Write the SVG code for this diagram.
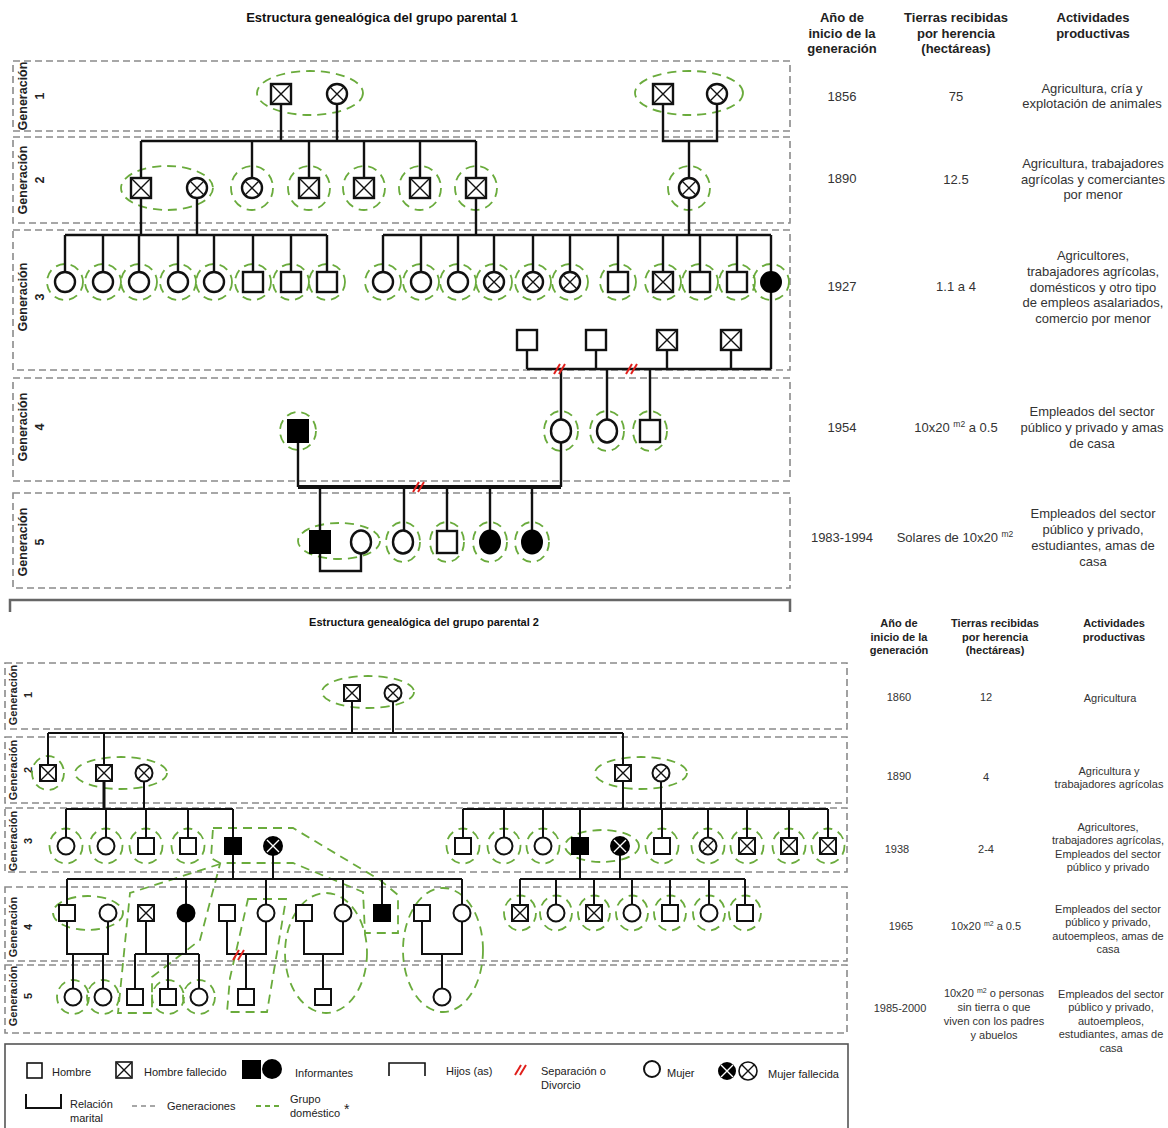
<svg xmlns="http://www.w3.org/2000/svg" width="1168" height="1128" viewBox="0 0 1168 1128">
<style>
text{font-family:"Liberation Sans",Arial,sans-serif}
.t1{font-size:13px;font-weight:bold;fill:#111}
.h1{font-size:13px;font-weight:bold;fill:#222;text-anchor:middle}
.v1{font-size:13px;fill:#333;text-anchor:middle}
.h2{font-size:11px;font-weight:bold;fill:#222;text-anchor:middle}
.v2{font-size:11px;fill:#333;text-anchor:middle}
.gl1{font-size:12.5px;font-weight:bold;fill:#222;text-anchor:middle}
.gl2{font-size:11px;font-weight:bold;fill:#222;text-anchor:middle}
.lg{font-size:11px;fill:#222}
.gen{fill:none;stroke:#8a8a8a;stroke-width:1.6;stroke-dasharray:7 4}
.dom{fill:none;stroke:#6aab3c;stroke-width:1.8;stroke-dasharray:9 6}
.c1{fill:none;stroke:#111;stroke-width:2.4}
.c2{fill:none;stroke:#111;stroke-width:2}
.red{fill:none;stroke:#e0201c;stroke-width:2}
.n{fill:#fff;stroke:#111;stroke-width:2.4}
.n2{fill:#fff;stroke:#111;stroke-width:2}
.ni{fill:#000;stroke:#000;stroke-width:2}
.x{fill:none;stroke:#111;stroke-width:1.4}
.xw{fill:none;stroke:#fff;stroke-width:1.4}
</style>
<defs>
<g id="m1"><rect x="-10" y="-10" width="20" height="20" class="n"/></g>
<g id="md1"><rect x="-10" y="-10" width="20" height="20" class="n"/><path d="M-9,-9L9,9M9,-9L-9,9" class="x"/></g>
<g id="f1"><circle r="10" class="n"/></g>
<g id="fd1"><circle r="10" class="n"/><path d="M-7,-7L7,7M7,-7L-7,7" class="x"/></g>
<g id="fi1"><circle r="10" class="ni"/></g>
<g id="m1o"><rect x="-10" y="-11" width="20" height="22" class="n"/></g>
<g id="mi1o"><rect x="-10" y="-11" width="20" height="22" class="ni"/></g>
<g id="f1o"><ellipse rx="10" ry="11.5" class="n"/></g>
<g id="fi1o"><ellipse rx="10" ry="11.5" class="ni"/></g>
<g id="m2"><rect x="-8" y="-8" width="16" height="16" class="n2"/></g>
<g id="md2"><rect x="-8" y="-8" width="16" height="16" class="n2"/><path d="M-7,-7L7,7M7,-7L-7,7" class="x"/></g>
<g id="mi2"><rect x="-8" y="-8" width="16" height="16" class="ni"/></g>
<g id="f2"><circle r="8.5" class="n2"/></g>
<g id="fd2"><circle r="8.5" class="n2"/><path d="M-6,-6L6,6M6,-6L-6,6" class="x"/></g>
<g id="fi2"><circle r="8.5" class="ni"/></g>
<g id="fdi2"><circle r="9" class="ni"/><path d="M-6,-6L6,6M6,-6L-6,6" class="xw"/></g>
<g id="rm"><path d="M-6,5L0,-5M-1,5L5,-5" class="red"/></g>
</defs>
<rect width="1168" height="1128" fill="#fff"/>

<!-- ===== GROUP 1 ===== -->
<text class="t1" x="382" y="22" text-anchor="middle">Estructura genealógica del grupo parental 1</text>
<g id="g1-generations">
<rect class="gen" x="13" y="61" width="777" height="70"/>
<rect class="gen" x="13" y="137" width="777" height="86"/>
<rect class="gen" x="13" y="230" width="777" height="140"/>
<rect class="gen" x="13" y="378" width="777" height="103"/>
<rect class="gen" x="13" y="493" width="777" height="95"/>
<text class="gl1" transform="translate(26.5,96) rotate(-90)">Generación</text>
<text class="gl1" transform="translate(44,96) rotate(-90)">1</text>
<text class="gl1" transform="translate(26.5,180) rotate(-90)">Generación</text>
<text class="gl1" transform="translate(44,180) rotate(-90)">2</text>
<text class="gl1" transform="translate(26.5,297) rotate(-90)">Generación</text>
<text class="gl1" transform="translate(44,297) rotate(-90)">3</text>
<text class="gl1" transform="translate(26.5,427) rotate(-90)">Generación</text>
<text class="gl1" transform="translate(44,427) rotate(-90)">4</text>
<text class="gl1" transform="translate(26.5,542) rotate(-90)">Generación</text>
<text class="gl1" transform="translate(44,542) rotate(-90)">5</text>
</g>
<path d="M10,612V600H790V612" fill="none" stroke="#666" stroke-width="2.5"/>

<g id="g1-domestic">
<ellipse class="dom" cx="310" cy="93" rx="53" ry="22"/>
<ellipse class="dom" cx="689" cy="93" rx="54" ry="22"/>
<ellipse class="dom" cx="167" cy="188" rx="46" ry="22"/>
<ellipse class="dom" cx="252" cy="188" rx="21" ry="22"/>
<ellipse class="dom" cx="309" cy="188" rx="21" ry="22"/>
<ellipse class="dom" cx="364" cy="188" rx="21" ry="22"/>
<ellipse class="dom" cx="420" cy="188" rx="21" ry="22"/>
<ellipse class="dom" cx="476" cy="188" rx="21" ry="22"/>
<ellipse class="dom" cx="689" cy="188" rx="21" ry="22"/>
<ellipse class="dom" cx="65" cy="282" rx="18" ry="18"/>
<ellipse class="dom" cx="103" cy="282" rx="18" ry="18"/>
<ellipse class="dom" cx="139" cy="282" rx="18" ry="18"/>
<ellipse class="dom" cx="178" cy="282" rx="18" ry="18"/>
<ellipse class="dom" cx="214" cy="282" rx="18" ry="18"/>
<ellipse class="dom" cx="253" cy="282" rx="18" ry="18"/>
<ellipse class="dom" cx="291" cy="282" rx="18" ry="18"/>
<ellipse class="dom" cx="327" cy="282" rx="18" ry="18"/>
<ellipse class="dom" cx="383" cy="282" rx="18" ry="18"/>
<ellipse class="dom" cx="421" cy="282" rx="18" ry="18"/>
<ellipse class="dom" cx="458" cy="282" rx="18" ry="18"/>
<ellipse class="dom" cx="494" cy="282" rx="18" ry="18"/>
<ellipse class="dom" cx="533" cy="282" rx="18" ry="18"/>
<ellipse class="dom" cx="570" cy="282" rx="18" ry="18"/>
<ellipse class="dom" cx="618" cy="282" rx="18" ry="18"/>
<ellipse class="dom" cx="663" cy="282" rx="18" ry="18"/>
<ellipse class="dom" cx="700" cy="282" rx="18" ry="18"/>
<ellipse class="dom" cx="737" cy="282" rx="18" ry="18"/>
<ellipse class="dom" cx="771" cy="282" rx="18" ry="18"/>
<ellipse class="dom" cx="298" cy="431" rx="18" ry="19"/>
<ellipse class="dom" cx="561" cy="431" rx="17" ry="20"/>
<ellipse class="dom" cx="607" cy="431" rx="17" ry="20"/>
<ellipse class="dom" cx="650" cy="431" rx="17" ry="20"/>
<ellipse class="dom" cx="339" cy="541" rx="41" ry="18"/>
<ellipse class="dom" cx="403" cy="542" rx="17" ry="20"/>
<ellipse class="dom" cx="447" cy="542" rx="17" ry="20"/>
<ellipse class="dom" cx="490" cy="542" rx="17" ry="20"/>
<ellipse class="dom" cx="532" cy="542" rx="17" ry="20"/>
</g>

<g id="g1-connectors">
<path class="c1" d="M281,94V141M337,94V141M141,141H476M141,141V188M252,141V188M309,141V188M364,141V188M420,141V188M476,141V188"/>
<path class="c1" d="M663,94V141H717V94M689,141V188"/>
<path class="c1" d="M141,188V235M197,188V235M65,235H327M65,235V282M103,235V282M139,235V282M178,235V282M214,235V282M253,235V282M291,235V282M327,235V282"/>
<path class="c1" d="M476,188V235M689,188V235M383,235H771M383,235V282M421,235V282M458,235V282M494,235V282M533,235V282M570,235V282M618,235V282M663,235V282M700,235V282M737,235V282M771,235V369"/>
<path class="c1" d="M527,340V369M596,340V369M667,340V369M731,340V369M527,369H771"/>
<path class="c1" d="M561,369V431M607,369V431M650,369V431"/>
<path class="c1" d="M298,431V487M561,431V487"/>
<path d="M298,487H561" fill="none" stroke="#111" stroke-width="4"/>
<path class="c1" d="M320,487V542M404,487V542M447,487V542M490,487V542M532,487V542M320,542V571H361V542"/>
<use href="#rm" x="560" y="369"/>
<use href="#rm" x="632" y="369"/>
<use href="#rm" x="419" y="487"/>
</g>

<g id="g1-nodes">
<g id="p1-g1-a"><use href="#md1" x="281" y="94"/></g>
<g id="p1-g1-b"><use href="#fd1" x="337" y="94"/></g>
<g id="p1-g1-c"><use href="#md1" x="663" y="94"/></g>
<g id="p1-g1-d"><use href="#fd1" x="717" y="94"/></g>
<g id="p1-g2-1"><use href="#md1" x="141" y="188"/></g>
<g id="p1-g2-2"><use href="#fd1" x="197" y="188"/></g>
<g id="p1-g2-3"><use href="#fd1" x="252" y="188"/></g>
<g id="p1-g2-4"><use href="#md1" x="309" y="188"/></g>
<g id="p1-g2-5"><use href="#md1" x="364" y="188"/></g>
<g id="p1-g2-6"><use href="#md1" x="420" y="188"/></g>
<g id="p1-g2-7"><use href="#md1" x="476" y="188"/></g>
<g id="p1-g2-8"><use href="#fd1" x="689" y="188"/></g>
<g id="p1-g3-1"><use href="#f1" x="65" y="282"/></g>
<g id="p1-g3-2"><use href="#f1" x="103" y="282"/></g>
<g id="p1-g3-3"><use href="#f1" x="139" y="282"/></g>
<g id="p1-g3-4"><use href="#f1" x="178" y="282"/></g>
<g id="p1-g3-5"><use href="#f1" x="214" y="282"/></g>
<g id="p1-g3-6"><use href="#m1" x="253" y="282"/></g>
<g id="p1-g3-7"><use href="#m1" x="291" y="282"/></g>
<g id="p1-g3-8"><use href="#m1" x="327" y="282"/></g>
<g id="p1-g3-9"><use href="#f1" x="383" y="282"/></g>
<g id="p1-g3-10"><use href="#f1" x="421" y="282"/></g>
<g id="p1-g3-11"><use href="#f1" x="458" y="282"/></g>
<g id="p1-g3-12"><use href="#fd1" x="494" y="282"/></g>
<g id="p1-g3-13"><use href="#fd1" x="533" y="282"/></g>
<g id="p1-g3-14"><use href="#fd1" x="570" y="282"/></g>
<g id="p1-g3-15"><use href="#m1" x="618" y="282"/></g>
<g id="p1-g3-16"><use href="#md1" x="663" y="282"/></g>
<g id="p1-g3-17"><use href="#m1" x="700" y="282"/></g>
<g id="p1-g3-18"><use href="#m1" x="737" y="282"/></g>
<g id="p1-g3-19"><use href="#fi1" x="771" y="282"/></g>
<g id="p1-g3-20"><use href="#m1" x="527" y="340"/></g>
<g id="p1-g3-21"><use href="#m1" x="596" y="340"/></g>
<g id="p1-g3-22"><use href="#md1" x="667" y="340"/></g>
<g id="p1-g3-23"><use href="#md1" x="731" y="340"/></g>
<g id="p1-g4-1"><use href="#mi1o" x="298" y="431"/></g>
<g id="p1-g4-2"><use href="#f1o" x="561" y="431"/></g>
<g id="p1-g4-3"><use href="#f1o" x="607" y="431"/></g>
<g id="p1-g4-4"><use href="#m1o" x="650" y="431"/></g>
<g id="p1-g5-1"><use href="#mi1o" x="320" y="542"/></g>
<g id="p1-g5-2"><use href="#f1o" x="361" y="542"/></g>
<g id="p1-g5-3"><use href="#f1o" x="403" y="542"/></g>
<g id="p1-g5-4"><use href="#m1o" x="447" y="542"/></g>
<g id="p1-g5-5"><use href="#fi1o" x="490" y="542"/></g>
<g id="p1-g5-6"><use href="#fi1o" x="532" y="542"/></g>
</g>

<g id="g1-table">
<text class="h1" x="842" y="22">Año de</text>
<text class="h1" x="842" y="38">inicio de la</text>
<text class="h1" x="842" y="53">generación</text>
<text class="h1" x="956" y="22">Tierras recibidas</text>
<text class="h1" x="956" y="38">por herencia</text>
<text class="h1" x="956" y="53">(hectáreas)</text>
<text class="h1" x="1093" y="22">Actividades</text>
<text class="h1" x="1093" y="38">productivas</text>
<text class="v1" x="842" y="101">1856</text>
<text class="v1" x="956" y="101">75</text>
<text class="v1" x="1092" y="93">Agricultura, cría y</text>
<text class="v1" x="1092" y="108">explotación de animales</text>
<text class="v1" x="842" y="183">1890</text>
<text class="v1" x="956" y="184">12.5</text>
<text class="v1" x="1093" y="168">Agricultura, trabajadores</text>
<text class="v1" x="1093" y="184">agrícolas y comerciantes</text>
<text class="v1" x="1093" y="199">por menor</text>
<text class="v1" x="842" y="291">1927</text>
<text class="v1" x="956" y="291">1.1 a 4</text>
<text class="v1" x="1093" y="260">Agricultores,</text>
<text class="v1" x="1093" y="276">trabajadores agrícolas,</text>
<text class="v1" x="1093" y="292">domésticos y otro tipo</text>
<text class="v1" x="1093" y="307">de empleos asalariados,</text>
<text class="v1" x="1093" y="323">comercio por menor</text>
<text class="v1" x="842" y="432">1954</text>
<text class="v1" x="956" y="432">10x20 <tspan font-size="8.5" dy="-5">m2</tspan><tspan dy="5"> a  0.5</tspan></text>
<text class="v1" x="1092" y="416">Empleados del sector</text>
<text class="v1" x="1092" y="432">público y privado y amas</text>
<text class="v1" x="1092" y="448">de casa</text>
<text class="v1" x="842" y="542">1983-1994</text>
<text class="v1" x="955" y="542">Solares de 10x20 <tspan font-size="8.5" dy="-5">m2</tspan></text>
<text class="v1" x="1093" y="518">Empleados del sector</text>
<text class="v1" x="1093" y="534">público y privado,</text>
<text class="v1" x="1093" y="550">estudiantes, amas de</text>
<text class="v1" x="1093" y="566">casa</text>
</g>

<!-- ===== GROUP 2 ===== -->
<text class="t1" x="424" y="626" text-anchor="middle" style="font-size:11px">Estructura genealógica del grupo parental 2</text>
<g id="g2-generations">
<rect class="gen" x="5" y="663" width="842" height="66"/>
<rect class="gen" x="5" y="737" width="842" height="66"/>
<rect class="gen" x="5" y="808" width="842" height="64"/>
<rect class="gen" x="5" y="887" width="842" height="74"/>
<rect class="gen" x="5" y="965" width="842" height="68"/>
<text class="gl2" transform="translate(17,695) rotate(-90)">Generación</text>
<text class="gl2" transform="translate(32,695) rotate(-90)">1</text>
<text class="gl2" transform="translate(17,770) rotate(-90)">Generación</text>
<text class="gl2" transform="translate(32,770) rotate(-90)">2</text>
<text class="gl2" transform="translate(17,841) rotate(-90)">Generación</text>
<text class="gl2" transform="translate(32,841) rotate(-90)">3</text>
<text class="gl2" transform="translate(17,927) rotate(-90)">Generación</text>
<text class="gl2" transform="translate(32,927) rotate(-90)">4</text>
<text class="gl2" transform="translate(17,996) rotate(-90)">Generación</text>
<text class="gl2" transform="translate(32,996) rotate(-90)">5</text>
</g>

<g id="g2-domestic">
<ellipse class="dom" cx="368" cy="692" rx="46" ry="16"/>
<ellipse class="dom" cx="48" cy="773" rx="16" ry="17"/>
<ellipse class="dom" cx="121" cy="773" rx="46" ry="16"/>
<ellipse class="dom" cx="641" cy="773" rx="46" ry="16"/>
<ellipse class="dom" cx="66" cy="846" rx="16.5" ry="17.5"/>
<ellipse class="dom" cx="106" cy="846" rx="16.5" ry="17.5"/>
<ellipse class="dom" cx="146" cy="846" rx="16.5" ry="17.5"/>
<ellipse class="dom" cx="188" cy="846" rx="16.5" ry="17.5"/>
<polygon class="dom" points="213,828 293,828 380,880 398,895 398,933 365,933 363,892 293,863 220,863 211,858"/>
<polygon class="dom" points="220,864 130,893 118,1013 152,1013 152,977 200,940"/>
<ellipse class="dom" cx="463" cy="846" rx="16.5" ry="17.5"/>
<ellipse class="dom" cx="504" cy="846" rx="16.5" ry="17.5"/>
<ellipse class="dom" cx="543" cy="846" rx="16.5" ry="17.5"/>
<ellipse class="dom" cx="602" cy="846" rx="37" ry="16"/>
<ellipse class="dom" cx="662" cy="846" rx="16.5" ry="17.5"/>
<ellipse class="dom" cx="708" cy="846" rx="16.5" ry="17.5"/>
<ellipse class="dom" cx="747" cy="846" rx="16.5" ry="17.5"/>
<ellipse class="dom" cx="789" cy="846" rx="16.5" ry="17.5"/>
<ellipse class="dom" cx="828" cy="846" rx="16.5" ry="17.5"/>
<ellipse class="dom" cx="88" cy="913" rx="35" ry="17"/>
<polygon class="dom" points="248,899 286,899 267,1012 227,1012 230,978"/>
<ellipse class="dom" cx="326" cy="953" rx="41" ry="60"/>
<ellipse class="dom" cx="443" cy="950" rx="40" ry="62"/>
<ellipse class="dom" cx="520" cy="913" rx="16" ry="17.5"/>
<ellipse class="dom" cx="556" cy="913" rx="16" ry="17.5"/>
<ellipse class="dom" cx="594" cy="913" rx="16" ry="17.5"/>
<ellipse class="dom" cx="632" cy="913" rx="16" ry="17.5"/>
<ellipse class="dom" cx="670" cy="913" rx="16" ry="17.5"/>
<ellipse class="dom" cx="709" cy="913" rx="16" ry="17.5"/>
<ellipse class="dom" cx="745" cy="913" rx="16" ry="17.5"/>
<ellipse class="dom" cx="73" cy="997" rx="16" ry="17"/>
<ellipse class="dom" cx="103" cy="997" rx="16" ry="17"/>
<ellipse class="dom" cx="168" cy="997" rx="16" ry="17"/>
<ellipse class="dom" cx="199" cy="997" rx="16" ry="17"/>
</g>

<g id="g2-connectors">
<path class="c2" d="M352,693V733M393,693V733M48,733H623M48,733V773M104,733V773"/>
<path d="M104,773V809" fill="none" stroke="#111" stroke-width="3"/>
<path class="c2" d="M144,773V809M66,809H233M66,809V846M106,809V846M146,809V846M188,809V846M233,809V846"/>
<path class="c2" d="M623,733V809M661,773V809M463,809H828M463,809V846M504,809V846M543,809V846M580,809V846M662,809V846M708,809V846M747,809V846M789,809V846M828,809V846"/>
<path class="c2" d="M233,846V879M273,846V879M67,879H462M67,879V913M186,879V913M266,879V913M343,879V913M382,879V913M462,879V913"/>
<path class="c2" d="M580,846V879M620,846V879M520,879H745M520,879V913M556,879V913M594,879V913M632,879V913M670,879V913M709,879V913M745,879V913"/>
<path class="c2" d="M67,913V954H108V913M73,954V997M103,954V997"/>
<path class="c2" d="M146,913V954M186,913V954M135,954H199M135,954V997M168,954V997M199,954V997"/>
<path class="c2" d="M227,913V954H266V913M246,954V997"/>
<path class="c2" d="M304,913V954H343V913M323,954V997"/>
<path class="c2" d="M422,913V954H462V913M442,954V997"/>
<use href="#rm" x="239" y="955"/>
</g>

<g id="g2-nodes">
<g id="p2-g1-a"><use href="#md2" x="352" y="693"/></g>
<g id="p2-g1-b"><use href="#fd2" x="393" y="693"/></g>
<g id="p2-g2-1"><use href="#md2" x="48" y="773"/></g>
<g id="p2-g2-2"><use href="#md2" x="104" y="773"/></g>
<g id="p2-g2-3"><use href="#fd2" x="144" y="773"/></g>
<g id="p2-g2-4"><use href="#md2" x="623" y="773"/></g>
<g id="p2-g2-5"><use href="#fd2" x="661" y="773"/></g>
<g id="p2-g3-1"><use href="#f2" x="66" y="846"/></g>
<g id="p2-g3-2"><use href="#f2" x="106" y="846"/></g>
<g id="p2-g3-3"><use href="#m2" x="146" y="846"/></g>
<g id="p2-g3-4"><use href="#m2" x="188" y="846"/></g>
<g id="p2-g3-5"><use href="#mi2" x="233" y="846"/></g>
<g id="p2-g3-6"><use href="#fdi2" x="273" y="846"/></g>
<g id="p2-g3-7"><use href="#m2" x="463" y="846"/></g>
<g id="p2-g3-8"><use href="#f2" x="504" y="846"/></g>
<g id="p2-g3-9"><use href="#f2" x="543" y="846"/></g>
<g id="p2-g3-10"><use href="#mi2" x="580" y="846"/></g>
<g id="p2-g3-11"><use href="#fdi2" x="620" y="846"/></g>
<g id="p2-g3-12"><use href="#m2" x="662" y="846"/></g>
<g id="p2-g3-13"><use href="#fd2" x="708" y="846"/></g>
<g id="p2-g3-14"><use href="#md2" x="747" y="846"/></g>
<g id="p2-g3-15"><use href="#md2" x="789" y="846"/></g>
<g id="p2-g3-16"><use href="#md2" x="828" y="846"/></g>
<g id="p2-g4-1"><use href="#m2" x="67" y="913"/></g>
<g id="p2-g4-2"><use href="#f2" x="108" y="913"/></g>
<g id="p2-g4-3"><use href="#md2" x="146" y="913"/></g>
<g id="p2-g4-4"><use href="#fi2" x="186" y="913"/></g>
<g id="p2-g4-5"><use href="#m2" x="227" y="913"/></g>
<g id="p2-g4-6"><use href="#f2" x="266" y="913"/></g>
<g id="p2-g4-7"><use href="#m2" x="304" y="913"/></g>
<g id="p2-g4-8"><use href="#f2" x="343" y="913"/></g>
<g id="p2-g4-9"><use href="#mi2" x="382" y="913"/></g>
<g id="p2-g4-10"><use href="#m2" x="422" y="913"/></g>
<g id="p2-g4-11"><use href="#f2" x="462" y="913"/></g>
<g id="p2-g4-12"><use href="#md2" x="520" y="913"/></g>
<g id="p2-g4-13"><use href="#f2" x="556" y="913"/></g>
<g id="p2-g4-14"><use href="#md2" x="594" y="913"/></g>
<g id="p2-g4-15"><use href="#f2" x="632" y="913"/></g>
<g id="p2-g4-16"><use href="#m2" x="670" y="913"/></g>
<g id="p2-g4-17"><use href="#f2" x="709" y="913"/></g>
<g id="p2-g4-18"><use href="#m2" x="745" y="913"/></g>
<g id="p2-g5-1"><use href="#f2" x="73" y="997"/></g>
<g id="p2-g5-2"><use href="#f2" x="103" y="997"/></g>
<g id="p2-g5-3"><use href="#m2" x="135" y="997"/></g>
<g id="p2-g5-4"><use href="#m2" x="168" y="997"/></g>
<g id="p2-g5-5"><use href="#f2" x="199" y="997"/></g>
<g id="p2-g5-6"><use href="#m2" x="246" y="997"/></g>
<g id="p2-g5-7"><use href="#m2" x="323" y="997"/></g>
<g id="p2-g5-8"><use href="#f2" x="442" y="997"/></g>
</g>

<g id="g2-table">
<text class="h2" x="899" y="627">Año de</text>
<text class="h2" x="899" y="641">inicio de la</text>
<text class="h2" x="899" y="654">generación</text>
<text class="h2" x="995" y="627">Tierras recibidas</text>
<text class="h2" x="995" y="641">por herencia</text>
<text class="h2" x="995" y="654">(hectáreas)</text>
<text class="h2" x="1114" y="627">Actividades</text>
<text class="h2" x="1114" y="641">productivas</text>
<text class="v2" x="899" y="701">1860</text>
<text class="v2" x="986" y="701">12</text>
<text class="v2" x="1110" y="702">Agricultura</text>
<text class="v2" x="899" y="780">1890</text>
<text class="v2" x="986" y="781">4</text>
<text class="v2" x="1109" y="775">Agricultura y</text>
<text class="v2" x="1109" y="788">trabajadores agrícolas</text>
<text class="v2" x="897" y="853">1938</text>
<text class="v2" x="986" y="853">2-4</text>
<text class="v2" x="1108" y="831">Agricultores,</text>
<text class="v2" x="1108" y="844">trabajadores agrícolas,</text>
<text class="v2" x="1108" y="858">Empleados del sector</text>
<text class="v2" x="1108" y="871">público y privado</text>
<text class="v2" x="901" y="930">1965</text>
<text class="v2" x="986" y="930">10x20 <tspan font-size="7" dy="-4">m2</tspan><tspan dy="4"> a 0.5</tspan></text>
<text class="v2" x="1108" y="913">Empleados del sector</text>
<text class="v2" x="1108" y="926">público y privado,</text>
<text class="v2" x="1108" y="940">autoempleos, amas de</text>
<text class="v2" x="1108" y="953">casa</text>
<text class="v2" x="900" y="1012">1985-2000</text>
<text class="v2" x="994" y="997">10x20 <tspan font-size="7" dy="-4">m2</tspan><tspan dy="4"> o personas</tspan></text>
<text class="v2" x="994" y="1011">sin tierra o que</text>
<text class="v2" x="994" y="1025">viven con los padres</text>
<text class="v2" x="994" y="1039">y abuelos</text>
<text class="v2" x="1111" y="998">Empleados del sector</text>
<text class="v2" x="1111" y="1011">público y privado,</text>
<text class="v2" x="1111" y="1025">autoempleos,</text>
<text class="v2" x="1111" y="1038">estudiantes, amas de</text>
<text class="v2" x="1111" y="1052">casa</text>
</g>

<!-- ===== LEGEND ===== -->
<g id="legend">
<rect x="5" y="1044" width="843" height="95" fill="none" stroke="#555" stroke-width="1.6"/>
<rect x="27" y="1063" width="15" height="15" fill="#fff" stroke="#111" stroke-width="1.6"/>
<text class="lg" x="52" y="1076">Hombre</text>
<rect x="116" y="1062" width="16" height="16" fill="#fff" stroke="#111" stroke-width="1.6"/>
<path d="M117,1063L131,1077M131,1063L117,1077" class="x"/>
<text class="lg" x="144" y="1076">Hombre fallecido</text>
<rect x="242" y="1060" width="19" height="19" fill="#000"/>
<circle cx="272" cy="1069" r="10" fill="#000"/>
<text class="lg" x="295" y="1077">Informantes</text>
<path d="M389,1076V1063H425V1076" fill="none" stroke="#111" stroke-width="1.6"/>
<text class="lg" x="446" y="1075">Hijos (as)</text>
<use href="#rm" x="521" y="1070"/>
<text class="lg" x="541" y="1075">Separación o</text>
<text class="lg" x="541" y="1089">Divorcio</text>
<circle cx="652" cy="1069" r="8" fill="#fff" stroke="#111" stroke-width="2"/>
<text class="lg" x="667" y="1077">Mujer</text>
<circle cx="727" cy="1071" r="9" fill="#000"/>
<path d="M721,1065L733,1077M733,1065L721,1077" class="xw"/>
<circle cx="748" cy="1071" r="9" fill="#fff" stroke="#111" stroke-width="1.6"/>
<path d="M742,1065L754,1077M754,1065L742,1077" class="x"/>
<text class="lg" x="768" y="1078">Mujer fallecida</text>
<path d="M26,1094V1108H61V1094" fill="none" stroke="#111" stroke-width="2"/>
<text class="lg" x="70" y="1108">Relación</text>
<text class="lg" x="70" y="1122">marital</text>
<path d="M132,1106H158" fill="none" stroke="#8a8a8a" stroke-width="1.3" stroke-dasharray="5 4"/>
<text class="lg" x="167" y="1110">Generaciones</text>
<path d="M256,1106H282" fill="none" stroke="#6aab3c" stroke-width="1.8" stroke-dasharray="5 4"/>
<text class="lg" x="290" y="1103">Grupo</text>
<text class="lg" x="290" y="1117">doméstico</text>
<text class="lg" x="344" y="1114" style="font-size:14px">*</text>
</g>
</svg>
